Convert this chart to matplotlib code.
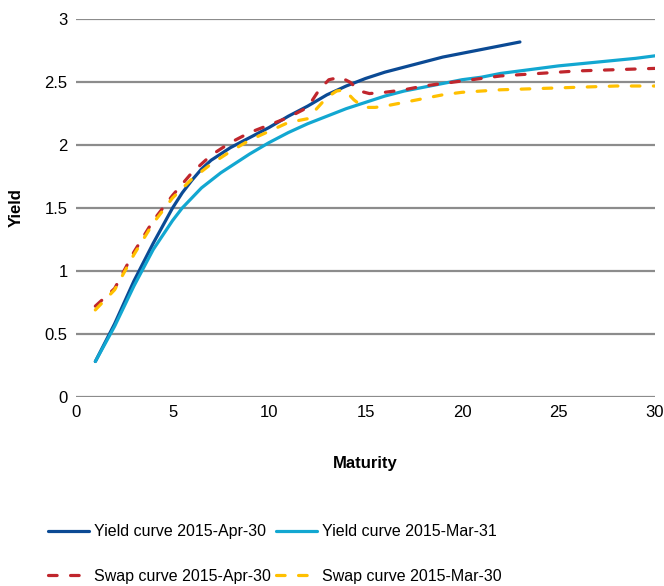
import matplotlib
matplotlib.use("Agg")
import matplotlib.pyplot as plt
from matplotlib.ticker import FuncFormatter

# maturities (years) and yields
x_yield_apr = [1, 2, 3, 4, 5, 5.5, 6, 6.5, 7, 7.5, 8, 9, 10, 11, 12, 13, 14, 15, 16, 17, 18, 19,
               20, 21, 22, 23]
y_yield_apr = [0.28, 0.58, 0.92, 1.22, 1.50, 1.62, 1.72, 1.81, 1.88, 1.93, 1.98, 2.06, 2.14,
               2.23, 2.31, 2.40, 2.47, 2.53, 2.58, 2.62, 2.66, 2.70, 2.73, 2.76, 2.79, 2.82]

x_yield_mar = [1, 2, 3, 4, 5, 5.5, 6, 6.5, 7, 7.5, 8, 9, 10, 11, 12, 13, 14, 15, 16, 17, 18, 19,
               20, 21, 22, 23, 24, 25, 26, 27, 28, 29, 30]
y_yield_mar = [0.28, 0.56, 0.88, 1.17, 1.40, 1.50, 1.58, 1.66, 1.72, 1.78, 1.83, 1.93, 2.02,
               2.10, 2.17, 2.23, 2.29, 2.34, 2.39, 2.43, 2.46, 2.49, 2.52, 2.54, 2.57, 2.59,
               2.61, 2.63, 2.645, 2.66, 2.675, 2.69, 2.71]

x_swap_apr = [1, 2, 3, 4, 5, 6, 7, 8, 9, 10, 11, 12, 12.6, 13.1, 13.7, 14.2, 14.7, 15.2, 16, 17,
              18, 19, 20, 22, 24, 26, 28, 30]
y_swap_apr = [0.72, 0.86, 1.15, 1.40, 1.60, 1.78, 1.92, 2.02, 2.10, 2.16, 2.22, 2.30, 2.44, 2.52,
              2.54, 2.50, 2.43, 2.41, 2.42, 2.44, 2.47, 2.49, 2.51, 2.55, 2.57, 2.59, 2.60, 2.61]

x_swap_mar = [1, 2, 3, 4, 5, 6, 7, 8, 9, 10, 11, 12, 13, 13.5, 13.9, 14.4, 14.9, 15.5, 16, 17,
              18, 19, 20, 22, 24, 26, 28, 30]
y_swap_mar = [0.69, 0.85, 1.13, 1.38, 1.58, 1.73, 1.85, 1.95, 2.04, 2.11, 2.18, 2.21, 2.38, 2.43,
              2.44, 2.36, 2.30, 2.30, 2.31, 2.34, 2.37, 2.40, 2.42, 2.44, 2.45, 2.46, 2.47, 2.47]

labels = ["Yield curve 2015-Apr-30", "Yield curve 2015-Mar-31",
          "Swap curve 2015-Apr-30", "Swap curve 2015-Mar-30"]

plt.rcParams["font.family"] = ["Liberation Sans", "DejaVu Sans"]

fig = plt.figure(figsize=(6.64, 5.86), dpi=100)
ax = fig.add_axes([0.1145, 0.323, 0.872, 0.644])

lw = 2.3
dash = (0, (2.7, 4.2))
l1, = ax.plot(x_yield_apr, y_yield_apr, color="#0b4a94", lw=lw, solid_capstyle="round")
l2, = ax.plot(x_yield_mar, y_yield_mar, color="#12a7d1", lw=lw, solid_capstyle="round")
l3, = ax.plot(x_swap_apr, y_swap_apr, color="#c0262d", lw=lw, ls=dash, dash_capstyle="round")
l4, = ax.plot(x_swap_mar, y_swap_mar, color="#ffc000", lw=lw, ls=dash, dash_capstyle="round")

ax.set_xlim(0, 30)
ax.set_ylim(0, 3)
ax.set_xticks(range(0, 31, 5))
ax.set_yticks([0, 0.5, 1, 1.5, 2, 2.5, 3])
ax.yaxis.set_major_formatter(FuncFormatter(lambda v, p: f"{v:g}"))
ax.grid(axis="y", color="#8c8c8c", lw=1.6)
ax.set_axisbelow(True)
for s in ax.spines.values():
    s.set_visible(False)
ax.tick_params(length=0, labelsize=12, pad=6)

ax.set_xlabel("Maturity", fontsize=12, fontweight="bold", labelpad=26)
ax.set_ylabel("Yield", fontsize=12, fontweight="bold", labelpad=15)

# row-wise order: column 1 = Apr-30 series, column 2 = Mar series
fig.legend([l1, l3, l2, l4], [labels[0], labels[2], labels[1], labels[3]],
           loc="upper left", bbox_to_anchor=(0.050, 0.130), ncol=2, frameon=False,
           fontsize=11.5, handlelength=2.6, handletextpad=0.3, columnspacing=0.3,
           labelspacing=1.85)

fig.savefig("out.png", dpi=100)
